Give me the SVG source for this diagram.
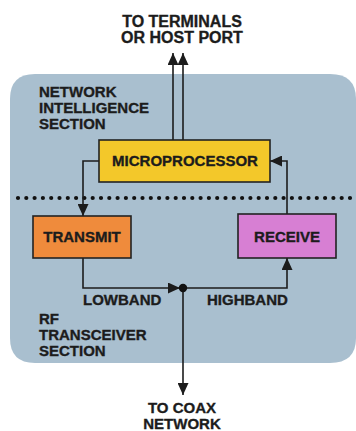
<svg xmlns="http://www.w3.org/2000/svg" width="356" height="431" viewBox="0 0 356 431">
<style>
text{font-family:"Liberation Sans",Arial,sans-serif;font-weight:bold;fill:#1c1c1c;stroke:#1c1c1c;stroke-width:0.35;font-size:15px}
.c{text-anchor:middle}
.box{stroke:#222;stroke-width:1.6}
.wire{fill:none;stroke:#1c1c1c;stroke-width:1.6}
</style>
<defs>
<marker id="ah" markerUnits="userSpaceOnUse" markerWidth="12" markerHeight="11" refX="12" refY="5.5" orient="auto">
<path d="M0,0 L12,5.5 L0,11 z" fill="#1c1c1c"/>
</marker>
</defs>
<rect width="356" height="431" fill="#ffffff"/>
<g id="panel">
<path d="M10,99 Q10,74 35,74 L330,74 Q356,74 356,99 L356,338 Q356,363 330,363 L35,363 Q10,363 10,338 Z" fill="#a9bfcf"/>
<line x1="18" y1="198" x2="351" y2="198" stroke="#111" stroke-width="4.2" stroke-linecap="round" stroke-dasharray="0 8.3"/>
<text x="39" y="97">NETWORK</text>
<text x="39" y="113">INTELLIGENCE</text>
<text x="39" y="129">SECTION</text>
<text x="39" y="324">RF</text>
<text x="39" y="340">TRANSCEIVER</text>
<text x="39" y="356">SECTION</text>
</g>
<g id="connectors">
<path class="wire" d="M173,140 V53" marker-end="url(#ah)"/>
<path class="wire" d="M183,140 V53" marker-end="url(#ah)"/>
<path class="wire" d="M99,161 H83 V216" marker-end="url(#ah)"/>
<path class="wire" d="M287,214 V161 H270" marker-end="url(#ah)"/>
<path class="wire" d="M83,258 V288 H180" marker-end="url(#ah)"/>
<path class="wire" d="M183,288 H287 V258" marker-end="url(#ah)"/>
<path class="wire" d="M183,288 V395" marker-end="url(#ah)"/>
<circle cx="183" cy="288" r="4.2" fill="#111"/>
<text x="83" y="305">LOWBAND</text>
<text x="207" y="305">HIGHBAND</text>
</g>
<g id="microprocessor">
<rect class="box" x="99" y="140" width="171" height="42" fill="#f3c82a"/>
<text class="c" x="185" y="166">MICROPROCESSOR</text>
</g>
<g id="transmit">
<rect class="box" x="33" y="216" width="98" height="42" fill="#ef8b3c"/>
<text class="c" x="82" y="242">TRANSMIT</text>
</g>
<g id="receive">
<rect class="box" x="238" y="214" width="98" height="44" fill="#d77fd3"/>
<text class="c" x="287" y="242">RECEIVE</text>
</g>
<g id="terminals">
<text class="c" x="182" y="27" style="font-size:16px">TO TERMINALS</text>
<text class="c" x="182" y="43" style="font-size:16px">OR HOST PORT</text>
</g>
<g id="coax">
<text class="c" x="182" y="413">TO COAX</text>
<text class="c" x="182" y="429">NETWORK</text>
</g>
</svg>
